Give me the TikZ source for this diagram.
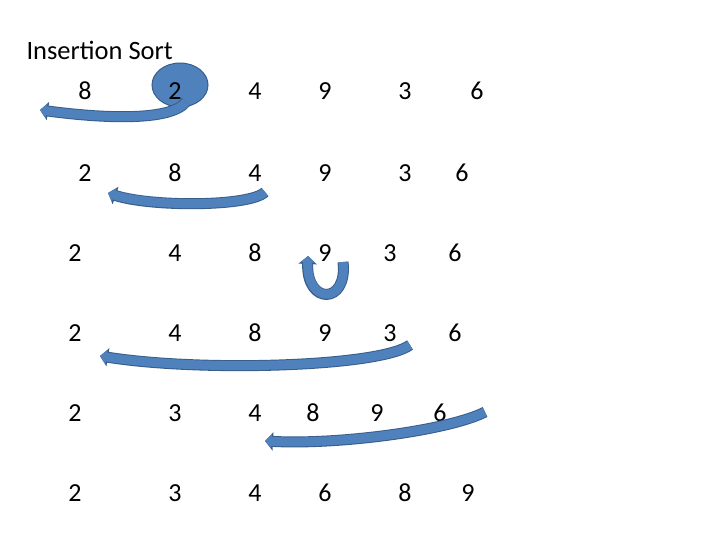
\documentclass[tikz,border=0pt]{standalone}
\usepackage{fontspec}
\setmainfont{Carlito}
\usetikzlibrary{arrows.meta}
\definecolor{slideblue}{HTML}{4F81BD}
\definecolor{slideedge}{HTML}{385D8A}
\tikzset{
  num/.style={font=\fontsize{26}{28}\selectfont, inner sep=0pt},
  fatarrow/.style={line width=11pt, slideedge, -{Triangle[length=8pt,width=18pt]}},
  fatfill/.style={line width=9pt, slideblue, -{Triangle[length=6.5pt,width=14pt]}},
}
\begin{document}
\begin{tikzpicture}[x=1pt,y=-1pt]
\useasboundingbox (0,0) rectangle (720,540);
\node[font=\fontsize{26.5}{28}\selectfont, anchor=west] (title) at (23,50) {Insertion Sort};
% ellipse behind the first 2
\filldraw[fill=slideblue, draw=slideedge, line width=1pt] (180,85) ellipse (28pt and 22pt);
% rows of numbers
\foreach \r/\y/\list in {
  a/91/{85/8,175/2,255/4,325/9,405/3,477/6},
  b/173/{85/2,175/8,255/4,325/9,405/3,462/6},
  c/253/{75/2,175/4,255/8,325/9,390/3,455/6},
  d/333/{75/2,175/4,255/8,325/9,390/3,455/6},
  e/413/{75/2,175/3,255/4,313/8,377/9,440/6},
  f/493/{75/2,175/3,255/4,325/6,405/8,468/9}}{
  \foreach \x/\v [count=\i] in \list
    \node[num] (\r\i) at (\x,\y) {\v};
}
% swap arrows
\coordinate (s1) at (186,102); \coordinate (t1) at (40,110);
\coordinate (s2) at (265,192); \coordinate (t2) at (108,193);
\coordinate (s4) at (410,345); \coordinate (t4) at (100,356);
\coordinate (s5) at (485,412); \coordinate (t5) at (265,441);
\foreach \s/\t/\c/\d in {s1/t1/{(170,122)}/{(100,118)}, s2/t2/{(250,207)}/{(150,207)},
                         s4/t4/{(380,367)}/{(200,372)}, s5/t5/{(450,430)}/{(340,445)}}{
  \draw[fatarrow] (\s) .. controls \c and \d .. (\t);
  \draw[fatfill] (\s) .. controls \c and \d .. (\t);
}
% turn-around arrow under 9
\coordinate (u1) at (343,262); \coordinate (u2) at (308,256);
\draw[fatarrow] (u1) .. controls (348,305) and (306,305) .. (u2);
\draw[fatfill] (u1) .. controls (348,305) and (306,305) .. (u2);
\end{tikzpicture}
\end{document}
